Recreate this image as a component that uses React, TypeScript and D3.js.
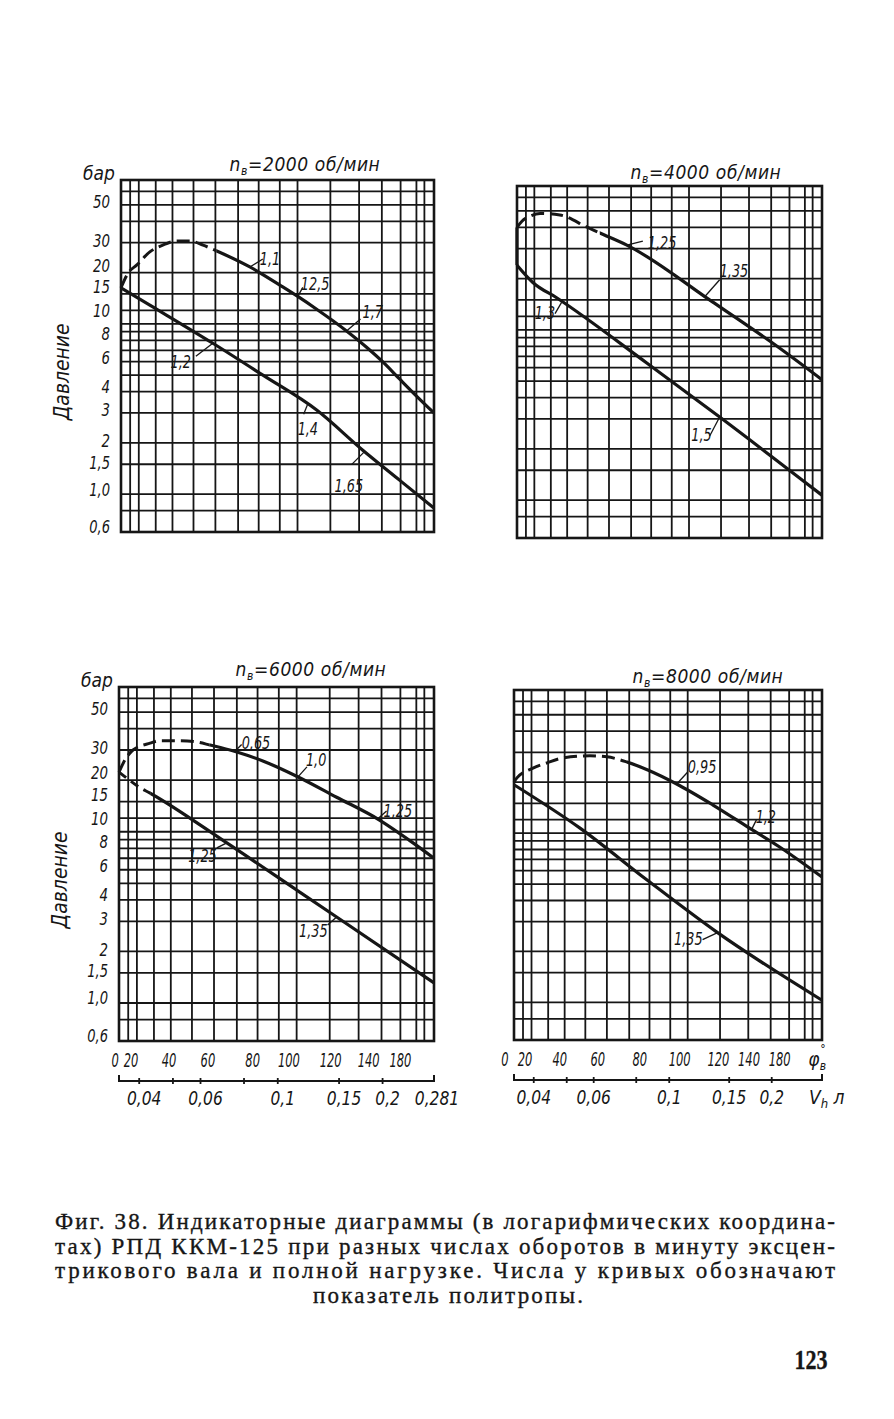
import * as d3 from "d3";

type Pt = [number, number];

// axis ranges (volume in litres, pressure in bar, both logarithmic)
const V_MIN = 0.035;
const V_MAX = 0.281;
const P_MIN = 0.6;
const P_MAX = 70;

const pressureTicks = [50, 30, 20, 15, 10, 8, 6, 4, 3, 2, 1.5, 1.0, 0.6];
const pressureTickLabels = ["50", "30", "20", "15", "10", "8", "6", "4", "3", "2", "1,5", "1,0", "0,6"];
const pressureGrid = [0.8, 1, 1.5, 2, 3, 4, 5, 6, 7, 8, 9, 10, 12, 15, 20, 30, 40, 50, 60];
const volumeGrid = [
  0.0372, 0.0394, 0.0441, 0.0493, 0.0567, 0.0656, 0.0763, 0.0875, 0.1007, 0.1133, 0.141, 0.1707,
  0.1986, 0.225, 0.25, 0.2636,
];
const volumeTicks = [0.04, 0.05, 0.06, 0.08, 0.1, 0.15, 0.2];
const volumeTickLabels = ["0,04", "", "0,06", "", "0,1", "0,15", "0,2"];
const angleLabels = ["0", "20", "40", "60", "80", "100", "120", "140", "180"];
const angleVolumes6000 = [0.0341, 0.0379, 0.0487, 0.063, 0.0847, 0.1076, 0.1419, 0.1824, 0.225];
const angleVolumes8000 = [0.0329, 0.0377, 0.0477, 0.0617, 0.0819, 0.1073, 0.1395, 0.1715, 0.211];

// n = 2000: upper = combustion arc + expansion, lower = compression
const upper2000: Pt[] = [
  [0.035, 16.3], [0.0367, 19.9], [0.0389, 22.2], [0.0424, 26.5], [0.0462, 29], [0.0508, 30.7],
  [0.0553, 30.7], [0.0604, 29], [0.0662, 26.8], [0.0825, 21.6], [0.1027, 16.5], [0.1135, 14.5],
  [0.1287, 12.2], [0.157, 9.1], [0.1794, 7.3], [0.1996, 6.0], [0.2234, 4.75], [0.2501, 3.77], [0.281, 3.0],
];
const lower2000: Pt[] = [
  [0.035, 16.3], [0.0424, 12.9], [0.0645, 7.7], [0.09, 5.0], [0.1287, 3.12], [0.1746, 1.82],
  [0.2234, 1.21], [0.281, 0.83],
];
const notes2000: [string, string, number][] = [
  ["1,1", "upper", 0.0825], ["12,5", "upper", 0.1135], ["1,7", "upper", 0.157],
  ["1,2", "lower", 0.0645], ["1,4", "lower", 0.1212], ["1,65", "lower", 0.177],
];

// n = 4000 (pressure rises along the left edge before the arc)
const rise4000: Pt[] = [[0.035, 24], [0.035, 40]];
const upper4000: Pt[] = [
  [0.035, 40], [0.0362, 43.5], [0.0382, 46.5], [0.041, 48.3], [0.0469, 47.3], [0.0565, 40.1],
  [0.0616, 37.1], [0.0741, 31.5], [0.133, 14.6], [0.2, 8.4], [0.281, 5.1],
];
const lower4000: Pt[] = [[0.035, 24], [0.039, 19], [0.046, 15.4], [0.0849, 6.4], [0.1397, 3.08], [0.281, 1.07]];
const notes4000: [string, string, number][] = [
  ["1,25", "upper", 0.0741], ["1,35", "upper", 0.1261], ["1,3", "lower", 0.0476], ["1,5", "lower", 0.1397],
];

// n = 6000
const upper6000: Pt[] = [
  [0.035, 22.3], [0.0365, 26.5], [0.0384, 30], [0.043, 32.9], [0.0459, 34], [0.0524, 34],
  [0.0586, 33.4], [0.0638, 32.1], [0.0763, 29.2], [0.0906, 25.9], [0.1133, 21.1], [0.1476, 15.9],
  [0.196, 11.7], [0.239, 8.9], [0.281, 7.0],
];
const lower6000: Pt[] = [
  [0.035, 22.3], [0.0375, 20], [0.04, 18.2], [0.043, 16.8], [0.0714, 8.6], [0.1133, 4.57],
  [0.1476, 3.18], [0.281, 1.31],
];
const notes6000: [string, string, number][] = [
  ["0,65", "upper", 0.0752], ["1,0", "upper", 0.1143], ["1,25", "upper", 0.1935],
  ["1,25", "lower", 0.0714], ["1,35", "lower", 0.1476],
];

// n = 8000
const upper8000: Pt[] = [
  [0.035, 20], [0.0357, 21.2], [0.0398, 24.2], [0.0438, 26], [0.0487, 27.8], [0.0585, 28.6],
  [0.0656, 28.2], [0.0751, 26.3], [0.0865, 23.6], [0.1052, 19.5], [0.1341, 14.7], [0.1722, 10.7],
  [0.211, 8.28], [0.281, 5.5],
];
const lower8000: Pt[] = [[0.035, 19.3], [0.0547, 10.7], [0.0859, 5.3], [0.138, 2.6], [0.281, 1.03]];
const notes8000: [string, string, number][] = [
  ["0,95", "upper", 0.1052], ["1,2", "upper", 0.1746], ["1,35", "lower", 0.1387],
];

// volume where the dashed (combustion) part of each curve ends
const upperDashEnd = [0.0662, 0.0616, 0.0638, 0.0751];
const lowerDashEnd = [0, 0, 0.043, 0];

const captionLines = [
  "Фиг. 38. Индикаторные диаграммы (в логарифмических координа-",
  "тах) РПД ККМ-125 при разных числах оборотов в минуту эксцен-",
  "трикового вала и полной нагрузке. Числа у кривых обозначают",
  "показатель политропы.",
];

const panels = [
  { rpm: "2000", rise: [] as Pt[], upper: upper2000, lower: lower2000, notes: notes2000 },
  { rpm: "4000", rise: rise4000, upper: upper4000, lower: lower4000, notes: notes4000 },
  { rpm: "6000", rise: [] as Pt[], upper: upper6000, lower: lower6000, notes: notes6000 },
  { rpm: "8000", rise: [] as Pt[], upper: upper8000, lower: lower8000, notes: notes8000 },
];

// layout
const frames = [
  { x: 121, y: 180, w: 313, h: 352, title: [305, 171], yAxis: true, xAxis: null as null | number[] },
  { x: 517, y: 186, w: 305, h: 352, title: [706, 179], yAxis: false, xAxis: null as null | number[] },
  { x: 119, y: 687, w: 315, h: 354, title: [311, 676], yAxis: true, xAxis: angleVolumes6000 },
  { x: 514, y: 690, w: 308, h: 350, title: [708, 683], yAxis: false, xAxis: angleVolumes8000 },
];
// [leader dx, leader dy, text dx, text dy, anchor]
const noteLayout: [number, number, number, number, string][][] = [
  [[13, -8, 10, -2, "start"], [5, -9, 3, -6, "start"], [14, -12, 16, -13, "start"], [-17, 13, -22, 25, "end"], [-4, 10, -10, 31, "start"], [-13, 13, -30, 40, "start"]],
  [[16, -4, 21, 4, "start"], [15, -17, 15, -20, "start"], [-7, 12, -7, 17, "end"], [-10, 19, -8, 24, "end"]],
  [[7, -7, 7, -2, "start"], [9, -10, 8, -11, "start"], [9, -8, 6, -2, "start"], [-10, 5, -10, 19, "end"], [-9, 8, -9, 20, "end"]],
  [[11, -12, 11, -11, "start"], [5, -10, 4, -6, "start"], [-15, 7, -15, 12, "end"]],
];
const tickLabelShift = [-3, -2, -7, -7, -13, -7, -4, -5, -3, -2, -2, -5, -5];

const HAND = '"DejaVu Sans Condensed", "DejaVu Sans", sans-serif';
const INK = "#161616";

// width of a numeric label drawn in the narrow drafting hand
const numWidth = (s: string, digit: number) =>
  [...s].reduce((w, c) => w + (c === "," ? digit * 0.45 : digit), 0);

function pressureOn(curve: Pt[], v: number) {
  for (let i = 0; i < curve.length - 1; i++) {
    const [v0, p0] = curve[i];
    const [v1, p1] = curve[i + 1];
    if (v1 === v0) continue;
    if (v >= v0 && v <= v1) {
      const t = Math.log(v / v0) / Math.log(v1 / v0);
      return Math.exp(Math.log(p0) + t * (Math.log(p1) - Math.log(p0)));
    }
  }
  return curve[curve.length - 1][1];
}

function Num({ x, y, text, size, digit, anchor = "middle", dy }: {
  x: number; y: number; text: string; size: number; digit: number; anchor?: string; dy?: string;
}) {
  return (
    <text
      x={x}
      y={y}
      dy={dy}
      textAnchor={anchor}
      fontSize={size}
      textLength={numWidth(text, digit)}
      lengthAdjust="spacingAndGlyphs"
    >
      {text}
    </text>
  );
}

function SplitCurve({ id, d, split, xs, dash }: {
  id: string; d: string; split: number; xs: [number, number]; dash: string;
}) {
  if (!split) return <path d={d} fill="none" stroke={INK} strokeWidth={3.2} />;
  return (
    <g>
      <clipPath id={id + "a"}>
        <rect x={xs[0] - 10} y={0} width={split - xs[0] + 10} height={1419} />
      </clipPath>
      <clipPath id={id + "b"}>
        <rect x={split} y={0} width={xs[1] - split + 10} height={1419} />
      </clipPath>
      <path d={d} fill="none" stroke={INK} strokeWidth={3} strokeDasharray={dash} clipPath={`url(#${id}a)`} />
      <path d={d} fill="none" stroke={INK} strokeWidth={3.2} clipPath={`url(#${id}b)`} />
    </g>
  );
}

function Panel({ index }: { index: number }) {
  const f = frames[index];
  const d = panels[index];
  const x = d3.scaleLog().domain([V_MIN, V_MAX]).range([f.x, f.x + f.w]);
  const y = d3.scaleLog().domain([P_MIN, P_MAX]).range([f.y + f.h, f.y]);
  const smooth = d3
    .line<Pt>()
    .x((p) => x(p[0]))
    .y((p) => y(p[1]))
    .curve(d3.curveMonotoneX);
  const straight = d3
    .line<Pt>()
    .x((p) => x(p[0]))
    .y((p) => y(p[1]));

  return (
    <g>
      {/* grid */}
      {pressureGrid.map((p) => (
        <line key={"h" + p} x1={f.x} x2={f.x + f.w} y1={y(p)} y2={y(p)} stroke={INK} strokeWidth={1.8} />
      ))}
      {volumeGrid.map((v) => (
        <line key={"v" + v} x1={x(v)} x2={x(v)} y1={f.y} y2={f.y + f.h} stroke={INK} strokeWidth={1.8} />
      ))}
      <rect x={f.x} y={f.y} width={f.w} height={f.h} fill="none" stroke={INK} strokeWidth={2.6} />

      {/* curves */}
      {d.rise.length > 0 && <path d={straight(d.rise) ?? ""} fill="none" stroke={INK} strokeWidth={3.2} />}
      <SplitCurve
        id={"u" + index}
        d={smooth(d.upper) ?? ""}
        split={x(upperDashEnd[index])}
        xs={[f.x, f.x + f.w]}
        dash="13 6"
      />
      <SplitCurve
        id={"l" + index}
        d={smooth(d.lower) ?? ""}
        split={lowerDashEnd[index] ? x(lowerDashEnd[index]) : 0}
        xs={[f.x, f.x + f.w]}
        dash="9 6"
      />

      {/* polytropic exponents */}
      <g fontFamily={HAND} fontStyle="italic" fill={INK}>
        {d.notes.map(([text, which, v], i) => {
          const [lx, ly, tx, ty, anchor] = noteLayout[index][i];
          const px = x(v);
          const py = y(pressureOn(which === "upper" ? d.upper : d.lower, v));
          return (
            <g key={"n" + i}>
              <line x1={px} y1={py} x2={px + lx} y2={py + ly} stroke={INK} strokeWidth={1.3} />
              <Num x={px + tx} y={py + ty} text={text} size={17} digit={8.3} anchor={anchor} />
            </g>
          );
        })}
      </g>

      {/* title */}
      <text
        x={f.title[0]}
        y={f.title[1]}
        textAnchor="middle"
        fontFamily={HAND}
        fontStyle="italic"
        fontSize={19}
        fill={INK}
        letterSpacing={0.6}
      >
        n<tspan dy={4} fontSize={12}>в</tspan>
        <tspan dy={-4}>=</tspan>
        {d.rpm} об/мин
      </text>

      {f.yAxis && (
        <g fontFamily={HAND} fontStyle="italic" fill={INK}>
          {pressureTicks.map((p, i) => (
            <Num
              key={"yl" + p}
              x={f.x - 11}
              y={y(p) + tickLabelShift[i]}
              dy="0.35em"
              text={pressureTickLabels[i]}
              size={18}
              digit={8.5}
              anchor="end"
            />
          ))}
          <text x={f.x - 22} y={f.y} textAnchor="middle" fontSize={19}>
            бар
          </text>
          <text
            transform={`translate(${f.x - 59},${f.y + f.h * 0.545}) rotate(-90)`}
            textAnchor="middle"
            dy="0.35em"
            fontSize={21}
            textLength={97}
            lengthAdjust="spacingAndGlyphs"
          >
            Давление
          </text>
        </g>
      )}

      {f.xAxis && <XAxes index={index} x={x} />}
    </g>
  );
}

function XAxes({ index, x }: { index: number; x: d3.ScaleLogarithmic<number, number> }) {
  const f = frames[index];
  const angles = f.xAxis as number[];
  const base = f.y + f.h;
  const axisY = base + 40;
  const last = index === 3;
  return (
    <g fontFamily={HAND} fontStyle="italic" fill={INK}>
      {angles.map((v, i) => (
        <Num key={"a" + i} x={x(v)} y={base + 26} text={angleLabels[i]} size={19} digit={7.3} />
      ))}
      {last && (
        <g>
          <text x={x(V_MAX) - 8} y={base + 26} textAnchor="middle" fontSize={19}>
            φ
          </text>
          <text x={x(V_MAX) + 1} y={base + 13} textAnchor="middle" fontSize={12}>
            °
          </text>
          <text x={x(V_MAX) + 1} y={base + 30} textAnchor="middle" fontSize={12}>
            в
          </text>
        </g>
      )}
      <line x1={x(V_MIN)} x2={x(V_MAX)} y1={axisY} y2={axisY} stroke={INK} strokeWidth={2.2} />
      {[V_MIN, V_MAX].map((v) => (
        <line key={"e" + v} x1={x(v)} x2={x(v)} y1={axisY - 6} y2={axisY + 1} stroke={INK} strokeWidth={2} />
      ))}
      {volumeTicks.map((v, i) => (
        <g key={"t" + v}>
          <line x1={x(v)} x2={x(v)} y1={axisY - 3} y2={axisY + 3} stroke={INK} strokeWidth={1.8} />
          {volumeTickLabels[i] && (
            <Num x={x(v) + (last ? 0 : 5)} y={axisY + 24} text={volumeTickLabels[i]} size={19} digit={10} />
          )}
        </g>
      ))}
      {last ? (
        <text x={x(V_MAX) - 13} y={axisY + 24} fontSize={19}>
          V<tspan dy={4} fontSize={13}>h</tspan>
          <tspan dy={-4}> л</tspan>
        </text>
      ) : (
        <Num x={x(V_MAX) + 3} y={axisY + 24} text="0,281" size={19} digit={10} />
      )}
    </g>
  );
}

export default function App() {
  return (
    <svg
      width={894}
      height={1419}
      viewBox="0 0 894 1419"
      style={{ position: "absolute", left: 0, top: 0, background: "#fff" }}
    >
      <rect width={894} height={1419} fill="#fff" />
      {panels.map((_, i) => (
        <Panel key={i} index={i} />
      ))}
      <g
        fontFamily='"Liberation Serif", "DejaVu Serif", serif'
        fill={INK}
        stroke={INK}
        strokeWidth={0.35}
        fontSize={23}
      >
        {captionLines.slice(0, 3).map((t, i) => (
          <text key={i} x={55} y={1229 + i * 24.5} textLength={780} lengthAdjust="spacing">
            {t}
          </text>
        ))}
        <text x={448} y={1302.5} textAnchor="middle" textLength={270} lengthAdjust="spacing">
          {captionLines[3]}
        </text>
        <text
          x={811}
          y={1369}
          textAnchor="middle"
          fontSize={27}
          fontWeight="bold"
          textLength={33}
          lengthAdjust="spacingAndGlyphs"
        >
          123
        </text>
      </g>
    </svg>
  );
}
